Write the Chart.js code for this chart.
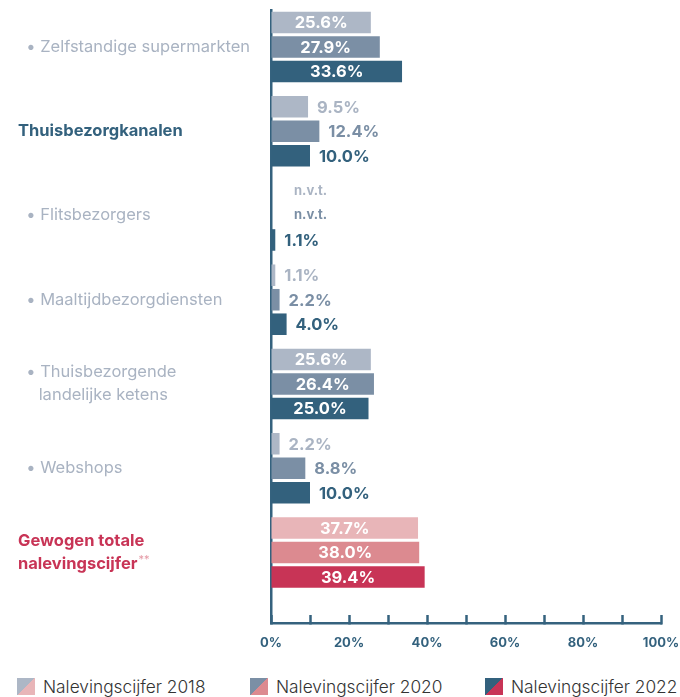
<!DOCTYPE html>
<html>
<head>
  <meta charset="utf-8">
  <title>Nalevingscijfers</title>
  <script src="https://cdn.jsdelivr.net/npm/chart.js"></script>
  <style>
    body { margin: 0; background: #fff; }
    #wrap { position: relative; width: 680px; height: 697px; }
    #legend { position: absolute; left: 0; top: 677px; width: 680px; height: 20px; font-family: Inter, sans-serif; }
    .item { position: absolute; top: 0; display: flex; align-items: center; height: 18px; }
    .box { width: 18px; height: 17px; margin-right: 8px; }
    .txt { font-size: 17.3px; font-weight: 300; color: #333; white-space: nowrap; }
  </style>
</head>
<body>
<div id="wrap">
  <canvas id="chart" width="680" height="660"></canvas>
  <div id="legend"></div>
</div>

<script>
// categorieen (van boven naar beneden)
const categories = [
  '\u2002\u2022 Zelfstandige supermarkten',
  'Thuisbezorgkanalen',
  '\u2002\u2022 Flitsbezorgers',
  '\u2002\u2022 Maaltijdbezorgdiensten',
  ['\u2002\u2022 Thuisbezorgende', '\u2002\u2002\u2005landelijke ketens'],
  '\u2002\u2022 Webshops',
  ['Gewogen totale', 'nalevingscijfer']
];
const seriesNames = ['Nalevingscijfer 2018', 'Nalevingscijfer 2020', 'Nalevingscijfer 2022'];
const values2018 = [25.6, 9.5, null, 1.1, 25.6, 2.2, 37.7];
const values2020 = [27.9, 12.4, null, 2.2, 26.4, 8.8, 38.0];
const values2022 = [33.6, 10.0, 1.1, 4.0, 25.0, 10.0, 39.4];
const xTickLabels = ['0%', '20%', '40%', '60%', '80%', '100%'];
const naText = 'n.v.t.';
const footnoteMark = '**';

const blues = ['#adb7c6', '#7b8fa5', '#33617d'];
const pinks = ['#e8b5b8', '#dc8a90', '#c83456'];
const outsideColors = ['#aab4c3', '#7b8fa5', '#33617d'];
const axisColor = '#35627e';
const totalIndex = 6;
const labelSize = 16.5;

const allValues = [values2018, values2020, values2022];

const datasets = allValues.map((vals, di) => ({
  label: seriesNames[di],
  data: vals.map((v, i) => ({ x: v, y: i })),
  backgroundColor: (c) => c.dataIndex === totalIndex ? pinks[di] : blues[di],
  categoryPercentage: 0.872,
  barPercentage: 0.88
}));

const tickVal = (c) => (c && c.tick) ? c.tick.value : -1;

// waarden bij de balken
const valueLabels = {
  id: 'valueLabels',
  afterDatasetsDraw(chart) {
    const ctx = chart.ctx;
    const x0 = chart.scales.x.getPixelForValue(0);
    chart.data.datasets.forEach((ds, di) => {
      const meta = chart.getDatasetMeta(di);
      meta.data.forEach((bar, i) => {
        const v = ds.data[i].x;
        ctx.save();
        ctx.textBaseline = 'middle';
        if (v === null) {
          ctx.font = '700 13px Inter';
          ctx.fillStyle = outsideColors[di];
          ctx.textAlign = 'left';
          ctx.fillText(naText, x0 + 23, bar.y);
        } else if (v > 20) {
          ctx.font = '700 16.5px Inter';
          ctx.fillStyle = '#ffffff';
          ctx.textAlign = 'center';
          ctx.fillText(v.toFixed(1) + '%', (bar.x + bar.base) / 2, bar.y + 1);
        } else {
          ctx.font = '700 16.5px Inter';
          ctx.fillStyle = outsideColors[di];
          ctx.textAlign = 'left';
          ctx.fillText(v.toFixed(1) + '%', bar.x + 9, bar.y + 1);
        }
        ctx.restore();
      });
    });
  },
  afterDraw(chart) {
    // ** achter "nalevingscijfer"
    const ctx = chart.ctx;
    const y = chart.scales.y;
    const lines = categories[totalIndex];
    ctx.save();
    ctx.font = '700 ' + labelSize + 'px Inter';
    const w = ctx.measureText(lines[1]).width;
    const lh = labelSize * 1.4;
    const cy = y.getPixelForValue(totalIndex) + lh / 2;
    ctx.font = '400 11px Inter';
    ctx.fillStyle = '#e59aa6';
    ctx.textBaseline = 'middle';
    ctx.textAlign = 'left';
    ctx.fillText(footnoteMark, y.left + w + 1, cy - 4);
    ctx.restore();
  }
};

new Chart(document.getElementById('chart'), {
  type: 'bar',
  data: { datasets },
  options: {
    indexAxis: 'y',
    responsive: false,
    animation: false,
    layout: { padding: { left: 18, top: 10, right: 19, bottom: 1 } },
    plugins: { legend: { display: false }, tooltip: { enabled: false } },
    scales: {
      y: {
        type: 'linear',
        reverse: true,
        offset: false,
        min: -0.439,
        max: 6.837,
        afterFit: (s) => { s.width = 253; s.paddingTop = 0; s.paddingBottom = 0; },
        grid: { display: false, drawTicks: false, offset: false },
        border: { display: true, color: axisColor, width: 2.5 },
        ticks: {
          stepSize: 1,
          includeBounds: false,
          autoSkip: false,
          crossAlign: 'far',
          callback: (v) => Number.isInteger(v) ? categories[v] : '',
          color: (c) => tickVal(c) === 1 ? '#33617d' : (tickVal(c) === totalIndex ? '#c83456' : '#a9b3c2'),
          font: (c) => ({
            family: 'Inter',
            size: labelSize,
            weight: (tickVal(c) === 1 || tickVal(c) === totalIndex) ? '700' : '400',
            lineHeight: 1.4
          })
        }
      },
      x: {
        type: 'linear',
        min: 0,
        max: 100,
        afterFit: (s) => { s.height = 36; s.paddingLeft = 0; s.paddingRight = 0; },
        grid: {
          display: true,
          drawOnChartArea: false,
          drawTicks: true,
          tickLength: -8,
          tickWidth: 2.5,
          tickColor: axisColor
        },
        border: { display: true, color: axisColor, width: 2.5 },
        ticks: {
          stepSize: 10,
          autoSkip: false,
          maxRotation: 0,
          padding: 20,
          color: '#33617d',
          font: { family: 'Inter', size: 13, weight: '700' },
          callback: (v) => v % 20 === 0 ? xTickLabels[v / 20] : ''
        }
      }
    }
  },
  plugins: [valueLabels]
});

// legenda
const legendX = [17, 250, 485];
const legend = document.getElementById('legend');
seriesNames.forEach((name, i) => {
  const item = document.createElement('div');
  item.className = 'item';
  item.style.left = legendX[i] + 'px';
  const box = document.createElement('div');
  box.className = 'box';
  box.style.background = `linear-gradient(135deg, ${blues[i]} 50%, ${pinks[i]} 50%)`;
  const txt = document.createElement('span');
  txt.className = 'txt';
  txt.textContent = name;
  item.appendChild(box);
  item.appendChild(txt);
  legend.appendChild(item);
});
</script>
</body>
</html>
